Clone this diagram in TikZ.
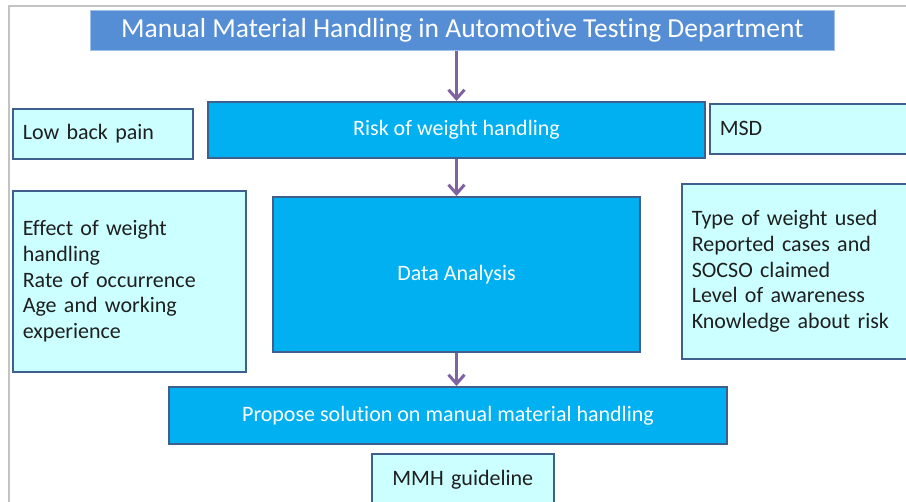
\documentclass[tikz,border=0pt]{standalone}
\usepackage{fontspec}
\setmainfont{Carlito}[Ligatures=NoCommon]
\usetikzlibrary{arrows.meta}

\definecolor{titleblue}{HTML}{558ED5}
\definecolor{boxblue}{HTML}{00B0F0}
\definecolor{paleblue}{HTML}{CCFFFF}
\definecolor{edgeblue}{HTML}{3F5F8C}
\definecolor{arrowpurple}{HTML}{7F62A0}
\definecolor{framegray}{HTML}{C3C3C3}

\tikzset{
  titlebox/.style={rectangle, fill=titleblue, draw=titleblue!55!white, line width=0.8pt,
    text=white, font=\fontsize{27.5}{30}\selectfont, anchor=north west, inner sep=0pt},
  mainbox/.style={rectangle, fill=boxblue, draw=edgeblue, line width=2pt,
    text=white, font=\fontsize{22}{25.7}\selectfont, anchor=north west, inner sep=0pt},
  sidebox/.style={rectangle, fill=paleblue, draw=edgeblue, line width=1.6pt,
    text=black!88, font=\fontsize{22}{25.7}\selectfont, anchor=north west,
    align=left, inner xsep=10pt, inner ysep=0pt},
  flow/.style={draw=arrowpurple, line width=3pt,
    -{Straight Barb[length=9pt,width=16pt,line width=3pt]}}
}

\begin{document}
\begin{tikzpicture}[x=1pt,y=-1pt]

      \useasboundingbox (0,0) rectangle (906,502);
      \draw[framegray, line width=2pt] (9,502) -- (9,6.5) -- (906,6.5);

      \node[titlebox, minimum width=744, minimum height=40] (title) at (90,10)
        {Manual Material Handling in Automotive Testing Department};

      \begin{scope}[every node/.style={mainbox}]
        \node[minimum width=497, minimum height=56] (risk)    at (207,101) {Risk of weight handling};
        \node[minimum width=367, minimum height=155] (data)   at (272,196) {Data Analysis};
        \node[minimum width=558, minimum height=57] (propose) at (168,386) {Propose solution on manual material handling};
      \end{scope}

      \begin{scope}[every node/.style={sidebox}]
        \node[text width=160, minimum height=50] (backpain) at (12,108) {Low back pain};
        \node[text width=180, minimum height=50] (msd)      at (709,103) {MSD};
        \node[text width=213, minimum height=181] (effect)  at (12,190)
          {Effect of weight\\handling\\Rate of occurrence\\Age and working\\experience};
        \node[text width=210, minimum height=175] (survey)  at (681,183)
          {Type of weight used\\Reported cases and\\SOCSO claimed\\Level of awareness\\Knowledge about risk};
        \node[text width=162, minimum height=52, align=center] (mmh) at (371,453) {MMH guideline};
      \end{scope}

      \draw[flow] (title.south -| risk.north) -- (risk.north);
      \draw[flow] (risk.south) -- (data.north);
      \draw[flow] (data.south) -- (propose.north -| data.south);

    \end{tikzpicture}
\end{document}
